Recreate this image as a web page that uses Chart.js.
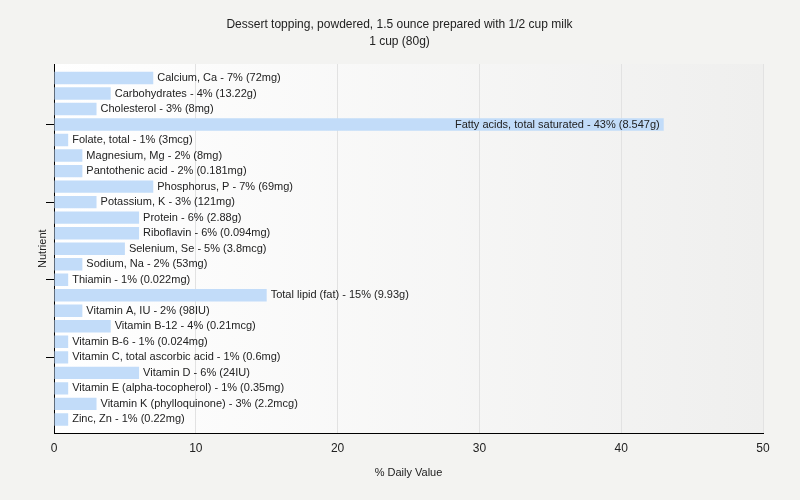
<!DOCTYPE html>
<html>
<head>
<meta charset="utf-8">
<script src="https://cdn.jsdelivr.net/npm/chart.js@4"></script>
<style>
  html, body { margin: 0; padding: 0; background: #f3f3f1; }
  #wrap { width: 800px; height: 500px; }
</style>
</head>
<body>
<div id="wrap"><canvas id="chart" width="800" height="500"></canvas></div>
<script>
// nutrient names, % daily value and the amount shown in brackets
var nutrients = ['Calcium, Ca', 'Carbohydrates', 'Cholesterol', 'Fatty acids, total saturated',
  'Folate, total', 'Magnesium, Mg', 'Pantothenic acid', 'Phosphorus, P', 'Potassium, K',
  'Protein', 'Riboflavin', 'Selenium, Se', 'Sodium, Na', 'Thiamin', 'Total lipid (fat)',
  'Vitamin A, IU', 'Vitamin B-12', 'Vitamin B-6', 'Vitamin C, total ascorbic acid',
  'Vitamin D', 'Vitamin E (alpha-tocopherol)', 'Vitamin K (phylloquinone)', 'Zinc, Zn'];
var dailyValues = [7, 4, 3, 43, 1, 2, 2, 7, 3, 6, 6, 5, 2, 1, 15, 2, 4, 1, 1, 6, 1, 3, 1];
var amounts = ['72mg', '13.22g', '8mg', '8.547g', '3mcg', '8mg', '0.181mg', '69mg', '121mg',
  '2.88g', '0.094mg', '3.8mcg', '53mg', '0.022mg', '9.93g', '98IU', '0.21mcg', '0.024mg',
  '0.6mg', '24IU', '0.35mg', '2.2mcg', '0.22mg'];
var xTicks = [0, 10, 20, 30, 40, 50];
var yTickRows = [3, 8, 13, 18];

var fontFamily = '"Liberation Sans", Arial, sans-serif';

// page background + gradient behind the plot
var backdrop = {
  id: 'backdrop',
  beforeDraw: function(chart) {
    var c = chart.ctx, a = chart.chartArea;
    c.save();
    c.fillStyle = '#f3f3f1';
    c.fillRect(0, 0, chart.width, chart.height);
    var g = c.createLinearGradient(a.left, 0, a.right, 0);
    g.addColorStop(0, '#ffffff');
    g.addColorStop(1, '#efefee');
    c.fillStyle = g;
    c.fillRect(a.left, a.top, a.right - a.left, a.bottom - a.top);
    c.restore();
  }
};

// text next to each bar, moved inside when it would run off the plot
var barLabels = {
  id: 'barLabels',
  afterDatasetsDraw: function(chart) {
    var c = chart.ctx, a = chart.chartArea;
    var meta = chart.getDatasetMeta(0);
    c.save();
    c.font = '11px ' + fontFamily;
    c.fillStyle = '#222222';
    c.textBaseline = 'middle';
    meta.data.forEach(function(bar, i) {
      var txt = nutrients[i] + ' - ' + dailyValues[i] + '% (' + amounts[i] + ')';
      var w = c.measureText(txt).width;
      if (bar.x + 4 + w > a.right) {
        c.textAlign = 'right';
        c.fillText(txt, bar.x - 4, bar.y);
      } else {
        c.textAlign = 'left';
        c.fillText(txt, bar.x + 4, bar.y);
      }
    });
    c.restore();
  }
};

new Chart(document.getElementById('chart'), {
  type: 'bar',
  data: {
    labels: nutrients,
    datasets: [{
      data: dailyValues.map(function(v, i) { return { x: v, y: i }; }),
      backgroundColor: '#c2dcf9',
      borderWidth: 0,
      barPercentage: 0.8,
      categoryPercentage: 1.0
    }]
  },
  options: {
    indexAxis: 'y',
    responsive: false,
    animation: false,
    layout: { padding: { left: 36, right: 37, top: 0, bottom: 16 } },
    plugins: {
      legend: { display: false },
      tooltip: { enabled: false },
      title: {
        display: true,
        text: ['Dessert topping, powdered, 1.5 ounce prepared with 1/2 cup milk', '1 cup (80g)'],
        color: '#222222',
        font: { family: fontFamily, size: 12, weight: 'normal', lineHeight: 1.35 },
        padding: { top: 17, bottom: 14.6 }
      }
    },
    scales: {
      x: {
        min: 0,
        max: 50,
        afterBuildTicks: function(s) { s.ticks = xTicks.map(function(v) { return { value: v }; }); },
        grid: { color: '#e2e2e2', drawTicks: false },
        border: { color: '#000000', width: 1 },
        ticks: { color: '#222222', padding: 8, font: { family: fontFamily, size: 12 } },
        title: {
          display: true,
          text: '% Daily Value',
          color: '#222222',
          font: { family: fontFamily, size: 11 },
          padding: { top: 3 }
        }
      },
      y: {
        type: 'linear',
        reverse: true,
        offset: false,
        min: -0.9,
        max: 22.9,
        afterBuildTicks: function(s) { s.ticks = yTickRows.map(function(v) { return { value: v }; }); },
        afterFit: function(s) { s.width = 18; },
        grid: {
          offset: false,
          drawOnChartArea: false,
          tickLength: 8,
          tickColor: '#000000'
        },
        border: { color: '#000000', width: 1 },
        ticks: { display: false },
        title: {
          display: true,
          text: 'Nutrient',
          color: '#222222',
          font: { family: fontFamily, size: 11 },
          padding: 0
        }
      }
    }
  },
  plugins: [backdrop, barLabels]
});
</script>
</body>
</html>
